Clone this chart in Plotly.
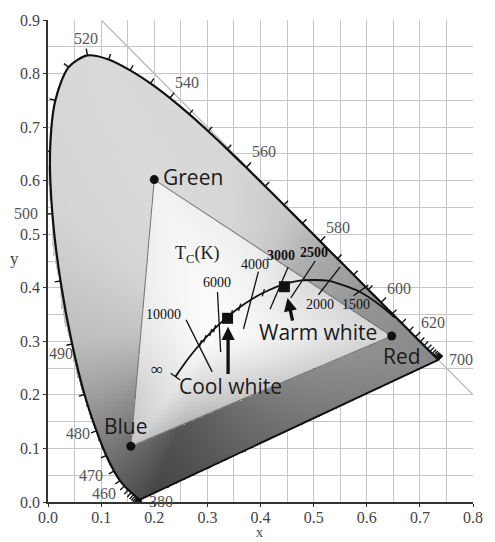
import numpy as np
import plotly.graph_objects as go

# ---------------- data ----------------
# CIE 1931 spectral locus, 5 nm steps
wavelength = list(range(380, 705, 5))
locus_x = [0.1741, 0.1740, 0.1738, 0.1736, 0.1733, 0.1730, 0.1726, 0.1721, 0.1714, 0.1703,
           0.1689, 0.1669, 0.1644, 0.1611, 0.1566, 0.1510, 0.1440, 0.1355, 0.1241, 0.1096,
           0.0913, 0.0687, 0.0454, 0.0235, 0.0082, 0.0039, 0.0139, 0.0389, 0.0743, 0.1142,
           0.1547, 0.1929, 0.2296, 0.2658, 0.3016, 0.3373, 0.3731, 0.4087, 0.4441, 0.4788,
           0.5125, 0.5448, 0.5752, 0.6029, 0.6270, 0.6482, 0.6658, 0.6801, 0.6915, 0.7006,
           0.7079, 0.7140, 0.7190, 0.7230, 0.7260, 0.7283, 0.7300, 0.7311, 0.7320, 0.7327,
           0.7334, 0.7340, 0.7344, 0.7346, 0.7347]
locus_y = [0.0050, 0.0050, 0.0049, 0.0049, 0.0048, 0.0048, 0.0048, 0.0048, 0.0051, 0.0058,
           0.0069, 0.0086, 0.0109, 0.0138, 0.0177, 0.0227, 0.0297, 0.0399, 0.0578, 0.0868,
           0.1327, 0.2007, 0.2950, 0.4127, 0.5384, 0.6548, 0.7502, 0.8120, 0.8338, 0.8262,
           0.8059, 0.7816, 0.7543, 0.7243, 0.6923, 0.6589, 0.6245, 0.5896, 0.5547, 0.5202,
           0.4866, 0.4544, 0.4242, 0.3965, 0.3725, 0.3514, 0.3340, 0.3197, 0.3083, 0.2993,
           0.2920, 0.2859, 0.2809, 0.2770, 0.2740, 0.2717, 0.2700, 0.2689, 0.2680, 0.2673,
           0.2666, 0.2660, 0.2656, 0.2654, 0.2653]

# labelled wavelengths and where their numbers sit
wl_labels = ["380", "460", "470", "480", "490", "500", "520", "540", "560", "580", "600", "620", "700"]
wl_label_x = [0.212, 0.105, 0.080, 0.056, 0.024, -0.042, 0.071, 0.262, 0.406, 0.545, 0.661, 0.725, 0.778]
wl_label_y = [0.001, 0.015, 0.049, 0.127, 0.277, 0.539, 0.866, 0.784, 0.654, 0.513, 0.398, 0.335, 0.267]

# display primaries
primary_names = ["Red", "Green", "Blue"]
primary_x = [0.647, 0.200, 0.156]
primary_y = [0.310, 0.602, 0.104]
primary_label_x = [0.667, 0.273, 0.146]
primary_label_y = [0.272, 0.606, 0.142]

# Planckian (blackbody) locus
planck_T = [1000, 1200, 1500, 2000, 2500, 3000, 3500, 4000, 4500, 5000, 5500, 6000,
            6500, 7000, 8000, 9000, 10000, 15000, 20000, "inf"]
planck_x = [0.6528, 0.6252, 0.5857, 0.5267, 0.4770, 0.4369, 0.4053, 0.3805, 0.3608, 0.3451,
            0.3325, 0.3221, 0.3135, 0.3064, 0.2952, 0.2869, 0.2807, 0.2637, 0.2565, 0.2399]
planck_y = [0.3444, 0.3674, 0.3931, 0.4133, 0.4137, 0.4041, 0.3907, 0.3768, 0.3636, 0.3516,
            0.3411, 0.3318, 0.3237, 0.3166, 0.3048, 0.2956, 0.2884, 0.2674, 0.2577, 0.2341]
minor_T = [9000, 8000, 7000, 6500, 5000, 4500, 3500]

# isotemperature lines
iso_labels = ["10000", "6000", "4000", "3000", "2500", "2000", "1500"]
iso_x0 = [0.260, 0.319, 0.396, 0.452, 0.503, 0.550, 0.603]
iso_y0 = [0.340, 0.392, 0.430, 0.439, 0.450, 0.439, 0.405]
iso_x1 = [0.309, 0.325, 0.368, 0.418, 0.457, 0.509, 0.575]
iso_y1 = [0.243, 0.280, 0.323, 0.360, 0.381, 0.387, 0.385]
iso_label_x = [0.218, 0.319, 0.390, 0.439, 0.500, 0.512, 0.580]
iso_label_y = [0.350, 0.410, 0.444, 0.461, 0.465, 0.368, 0.368]
iso_bold = [False, False, False, True, True, False, False]

# lamp chromaticities
lamp_names = ["Cool white", "Warm white"]
lamp_x = [0.338, 0.445]
lamp_y = [0.343, 0.402]
lamp_label_x = [0.344, 0.509]
lamp_label_y = [0.216, 0.317]
lamp_arrow_tail_x = [0.339, 0.461]
lamp_arrow_tail_y = [0.236, 0.336]
lamp_arrow_tip_x = [0.339, 0.451]
lamp_arrow_tip_y = [0.327, 0.381]

X_RANGE = [0.0, 0.8]
Y_RANGE = [0.0, 0.9]

# ---------------- shading of the diagram ----------------
lx = np.array(locus_x)
ly = np.array(locus_y)
wx, wy = 0.32, 0.32   # neutral point used for the tonal shading

# boundary of the full gamut (spectral locus closed by the purple line)
t = np.linspace(0, 1, 120)[1:-1]
bx = np.concatenate([lx, lx[-1] + (lx[0] - lx[-1]) * t])
by = np.concatenate([ly, ly[-1] + (ly[0] - ly[-1]) * t])

# triangle boundary
px = np.array(primary_x + [primary_x[0]])
py = np.array(primary_y + [primary_y[0]])
tt = np.linspace(0, 1, 300, endpoint=False)
tx = np.concatenate([px[i] + (px[i + 1] - px[i]) * tt for i in range(3)])
ty = np.concatenate([py[i] + (py[i + 1] - py[i]) * tt for i in range(3)])


def polar_radius(xs, ys):
    ang = np.arctan2(ys - wy, xs - wx)
    rad = np.hypot(xs - wx, ys - wy)
    order = np.argsort(ang)
    return ang[order], rad[order]


ang_b, rad_b = polar_radius(bx, by)
ang_t, rad_t = polar_radius(tx, ty)

step = 0.0025
gx = np.arange(0.0, 0.75, step) + step / 2
gy = np.arange(0.0, 0.845, step) + step / 2
GX, GY = np.meshgrid(gx, gy)
theta = np.arctan2(GY - wy, GX - wx)
dist = np.hypot(GX - wx, GY - wy)
r_locus = dist / np.interp(theta, ang_b, rad_b, period=2 * np.pi)
r_tri = dist / np.interp(theta, ang_t, rad_t, period=2 * np.pi)

tone_deg = [0, 17, 40, 57, 85, 115, 143, 184, 207, 225, 238, 248, 278, 320, 348]
tone_val = [0.55, 0.60, 0.68, 0.78, 0.84, 0.85, 0.83, 0.74, 0.62, 0.48, 0.36, 0.27, 0.37, 0.47, 0.53]
deg = np.degrees(theta) % 360
edge_tone = np.interp(deg, tone_deg, tone_val, period=360)

outer = edge_tone + (0.88 - edge_tone) * 0.25 * np.clip(1 - r_locus, 0, 1)
tri_edge = edge_tone + (1 - edge_tone) * 0.62
inner = 0.99 - (0.99 - tri_edge) * np.clip(r_tri, 0, 1) ** 1.3
shade = np.where(r_tri <= 1, inner, outer)
shade = np.where(r_locus <= 1.002, shade, np.nan)

fig = go.Figure()

# x + y = 1 guide line
fig.add_shape(type="line", x0=0.1, y0=0.9, x1=0.8, y1=0.2, xref="x", yref="y",
              line=dict(color="#b4b4b4", width=1.2), layer="below")

fig.add_trace(go.Heatmap(x=gx, y=gy, z=shade, zmin=0, zmax=1, zsmooth=False,
                         colorscale=[[0, "rgb(0,0,0)"], [1, "rgb(255,255,255)"]],
                         showscale=False, hoverinfo="skip"))

# triangle of primaries
fig.add_trace(go.Scatter(x=primary_x + [primary_x[0]], y=primary_y + [primary_y[0]],
                         mode="lines", line=dict(color="#7a7a7a", width=1.1), hoverinfo="skip"))

# spectral locus (smooth) and the straight purple line
fig.add_trace(go.Scatter(x=locus_x, y=locus_y, mode="lines",
                         line=dict(color="#111111", width=2.2, shape="spline", smoothing=0.8),
                         hoverinfo="skip"))
fig.add_trace(go.Scatter(x=[locus_x[-1], locus_x[0]], y=[locus_y[-1], locus_y[0]], mode="lines",
                         line=dict(color="#111111", width=2), hoverinfo="skip"))

# wavelength ticks, outward normal to the locus
dxs = np.gradient(lx)
dys = np.gradient(ly)
tick_x, tick_y = [], []
for i in range(len(wavelength)):
    nx, ny = -dys[i], dxs[i]
    n = np.hypot(nx, ny)
    nx, ny = nx / n, ny / n
    ln = 0.013 if wavelength[i] in (500, 520, 540, 560, 580, 600, 620) else 0.011
    tick_x += [lx[i], lx[i] + nx * ln, None]
    tick_y += [ly[i], ly[i] + ny * ln, None]
fig.add_trace(go.Scatter(x=tick_x, y=tick_y, mode="lines",
                         line=dict(color="#111111", width=1.4), hoverinfo="skip"))

# Planckian locus
fig.add_trace(go.Scatter(x=planck_x, y=planck_y, mode="lines",
                         line=dict(color="#111111", width=1.8, shape="spline", smoothing=0.6),
                         hoverinfo="skip"))

# isotherms
iso_px, iso_py = [], []
for i in range(len(iso_labels)):
    iso_px += [iso_x0[i], iso_x1[i], None]
    iso_py += [iso_y0[i], iso_y1[i], None]
# short minor marks along the locus
mdx, mdy = 0.3 / np.hypot(0.3, 1), 1 / np.hypot(0.3, 1)
for T in minor_T:
    k = planck_T.index(T)
    iso_px += [planck_x[k] - mdx * 0.007, planck_x[k] + mdx * 0.007, None]
    iso_py += [planck_y[k] - mdy * 0.007, planck_y[k] + mdy * 0.007, None]
# end bar at infinite temperature
ex, ey = planck_x[-2] - planck_x[-1], planck_y[-2] - planck_y[-1]
en = np.hypot(ex, ey)
qx, qy = -ey / en, ex / en
iso_px += [planck_x[-1] - qx * 0.011, planck_x[-1] + qx * 0.011, None]
iso_py += [planck_y[-1] - qy * 0.011, planck_y[-1] + qy * 0.011, None]
fig.add_trace(go.Scatter(x=iso_px, y=iso_py, mode="lines",
                         line=dict(color="#111111", width=1.3), hoverinfo="skip"))

# primaries
fig.add_trace(go.Scatter(x=primary_x, y=primary_y, mode="markers",
                         marker=dict(color="#111111", size=9), hoverinfo="skip"))
# lamps
fig.add_trace(go.Scatter(x=lamp_x, y=lamp_y, mode="markers",
                         marker=dict(color="#111111", size=11, symbol="square"), hoverinfo="skip"))


def paper_x(v):
    return (v - X_RANGE[0]) / (X_RANGE[1] - X_RANGE[0])


def paper_y(v):
    return (v - Y_RANGE[0]) / (Y_RANGE[1] - Y_RANGE[0])


def label(x, y, text, family, size, color, anchor="center", pad=1):
    return dict(x=paper_x(x), y=paper_y(y), xref="paper", yref="paper", text=text,
                showarrow=False, xanchor=anchor, yanchor="middle", borderpad=pad,
                font=dict(family=family, size=size, color=color))


ann = []
serif = "Liberation Serif, Times New Roman, serif"
sans = "Open Sans"
for s, x, y in zip(wl_labels, wl_label_x, wl_label_y):
    ann.append(label(x, y, s, serif, 16, "#555555", pad=0))
for s, x, y in zip(primary_names, primary_label_x, primary_label_y):
    ann.append(label(x, y, s, sans, 21, "#1a1a1a"))
for s, x, y, b in zip(iso_labels, iso_label_x, iso_label_y, iso_bold):
    ann.append(label(x, y, f"<b>{s}</b>" if b else s, serif, 14, "#111111"))
for s, x, y in zip(lamp_names, lamp_label_x, lamp_label_y):
    ann.append(label(x, y, s, sans, 21, "#1a1a1a"))
for i in range(len(lamp_names)):
    ann.append(dict(x=lamp_arrow_tip_x[i], y=lamp_arrow_tip_y[i],
                    ax=lamp_arrow_tail_x[i], ay=lamp_arrow_tail_y[i],
                    xref="x", yref="y", axref="x", ayref="y", text="", showarrow=True,
                    arrowhead=2, arrowsize=0.8, arrowwidth=3.3, arrowcolor="#111111"))
ann.append(label(0.206, 0.247, "∞", serif, 17, "#111111"))
ann.append(label(0.281, 0.462, "T<sub>C</sub>(K)", serif, 18, "#222222"))
# axis titles
ann.append(label(0.399, -0.0575, "x", serif, 14, "#444444", pad=0))
ann.append(label(-0.064, 0.455, "y", serif, 17, "#444444"))

axis_common = dict(showgrid=True, gridcolor="#c6c6c6", gridwidth=1,
                   showline=True, linecolor="#333333", linewidth=1.5,
                   ticks="outside", ticklen=3, tickcolor="#333333", tickwidth=1.2,
                   zeroline=False, tickformat=".1f",
                   tickfont=dict(family=serif, size=16, color="#444444"))

fig.update_xaxes(range=X_RANGE, tick0=0, dtick=0.1, ticklabelstandoff=-3,
                 minor=dict(dtick=0.05, showgrid=True, gridcolor="#c6c6c6", gridwidth=1),
                 **axis_common)
fig.update_yaxes(range=Y_RANGE, tick0=0, dtick=0.1,
                 minor=dict(dtick=0.05, showgrid=True, gridcolor="#c6c6c6", gridwidth=1),
                 **axis_common)

fig.update_layout(width=495, height=542, margin=dict(l=48, r=12, t=12, b=40),
                  plot_bgcolor="white", paper_bgcolor="white", showlegend=False,
                  annotations=ann)

fig.write_html("out.html")
